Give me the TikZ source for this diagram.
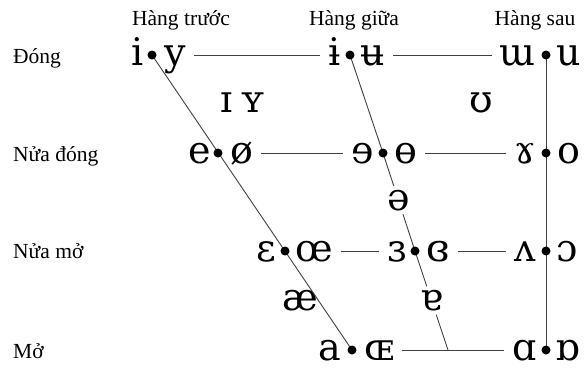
\documentclass[tikz,border=0pt]{standalone}
\usepackage{fontspec}
\setmainfont{Liberation Serif}
\newfontfamily\ipa{DejaVu Serif}
\usetikzlibrary{positioning}
\begin{document}
\begin{tikzpicture}[x=1pt, y=-1pt,
    hang/.style={font=\fontsize{21.5}{26}\selectfont, inner sep=0pt},
    vowel/.style={font=\ipa\fontsize{38}{44}\selectfont, inner sep=0pt, text height=24pt, text depth=4pt},
    link/.style={draw=black!75, line width=0.9pt}]
    \useasboundingbox (0,0) rectangle (587,368);
    % dots: front, central, back
    \coordinate (f1) at (152,55);  \coordinate (c1) at (350,55);  \coordinate (b1) at (546,55);
    \coordinate (f2) at (218,153); \coordinate (c2) at (383,153); \coordinate (b2) at (546,153);
    \coordinate (f3) at (285,251); \coordinate (c3) at (415,251); \coordinate (b3) at (546,251);
    \coordinate (f4) at (352,350); \coordinate (c4) at (448,350); \coordinate (b4) at (546,350);
    % headers and row labels
    \node[hang, anchor=base] (truoc) at (181,25) {Hàng trước};
    \node[hang, anchor=base] (giua) at (354,25) {Hàng giữa};
    \node[hang, anchor=base] (sau) at (535,25) {Hàng sau};
    \node[hang, anchor=base west] (dong) at (13,63) {Đóng};
    \node[hang, anchor=base west] (nuadong) at (13,161) {Nửa đóng};
    \node[hang, anchor=base west] (nuamo) at (13,258) {Nửa mở};
    \node[hang, anchor=base west] (mo) at (13,358) {Mở};
    % vowels
    \node[vowel, left=8pt of f1] (i) {i};     \node[vowel, right=12pt of f1] (y) {y};
    \node[vowel, left=9pt of c1] (ibar) {ɨ};  \node[vowel, right=10pt of c1] (ubar) {ʉ};
    \node[vowel, left=10pt of b1] (uu) {ɯ};   \node[vowel, right=10pt of b1] (u) {u};
    \node[vowel, left=7pt of f2] (e) {e};     \node[vowel, right=12pt of f2] (oslash) {ø};
    \node[vowel, left=9pt of c2] (erev) {ɘ};  \node[vowel, right=11pt of c2] (obar) {ɵ};
    \node[vowel, left=10pt of b2] (gamma) {ɤ};\node[vowel, right=11pt of b2] (o) {o};
    \node[vowel, left=9pt of f3] (eps) {ɛ};   \node[vowel, right=10pt of f3] (oe) {œ};
    \node[vowel, left=8pt of c3] (epsrev) {ɜ};\node[vowel, right=11pt of c3] (closedeps) {ɞ};
    \node[vowel, left=10pt of b3] (wedge) {ʌ};\node[vowel, right=10pt of b3] (openo) {ɔ};
    \node[vowel, left=11pt of f4] (a) {a};    \node[vowel, right=12pt of f4] (OE) {ɶ};
    \node[vowel, left=9pt of b4] (alpha) {ɑ}; \node[vowel, right=9pt of b4] (alpharev) {ɒ};
    \node[vowel] (smalli) at (227,102) {ɪ};
    \node[vowel] (smally) at (253,102) {ʏ};
    \node[vowel] (upsilon) at (481,102) {ʊ};
    \node[vowel] (ae) at (300,300) {æ};
    \path (c2) -- (c3) node[vowel, pos=0.48] (schwa) {ə};
    \path (c3) -- (c4) node[vowel, pos=0.5] (turneda) {ɐ};
    % lines
    \draw[link] (f1) -- (f4);
    \draw[link] (b1) -- (b4);
    \draw[link] (c1) -- (c2) -- (schwa);
    \draw[link] (schwa) -- (c3) -- (turneda);
    \draw[link] (turneda) -- (c4);
    \draw[link, shorten <=8pt, shorten >=8pt] (y) -- (ibar);
    \draw[link, shorten <=8pt, shorten >=8pt] (ubar) -- (uu);
    \draw[link, shorten <=8pt, shorten >=8pt] (oslash) -- (erev);
    \draw[link, shorten <=8pt, shorten >=8pt] (obar) -- (gamma);
    \draw[link, shorten <=8pt, shorten >=8pt] (oe) -- (epsrev);
    \draw[link, shorten <=8pt, shorten >=8pt] (closedeps) -- (wedge);
    \draw[link, shorten <=8pt, shorten >=8pt] (OE) -- (alpha);
    \foreach \d in {f1,f2,f3,f4,c1,c2,c3,b1,b2,b3,b4}
        \fill (\d) circle (4.5pt);
\end{tikzpicture}
\end{document}
